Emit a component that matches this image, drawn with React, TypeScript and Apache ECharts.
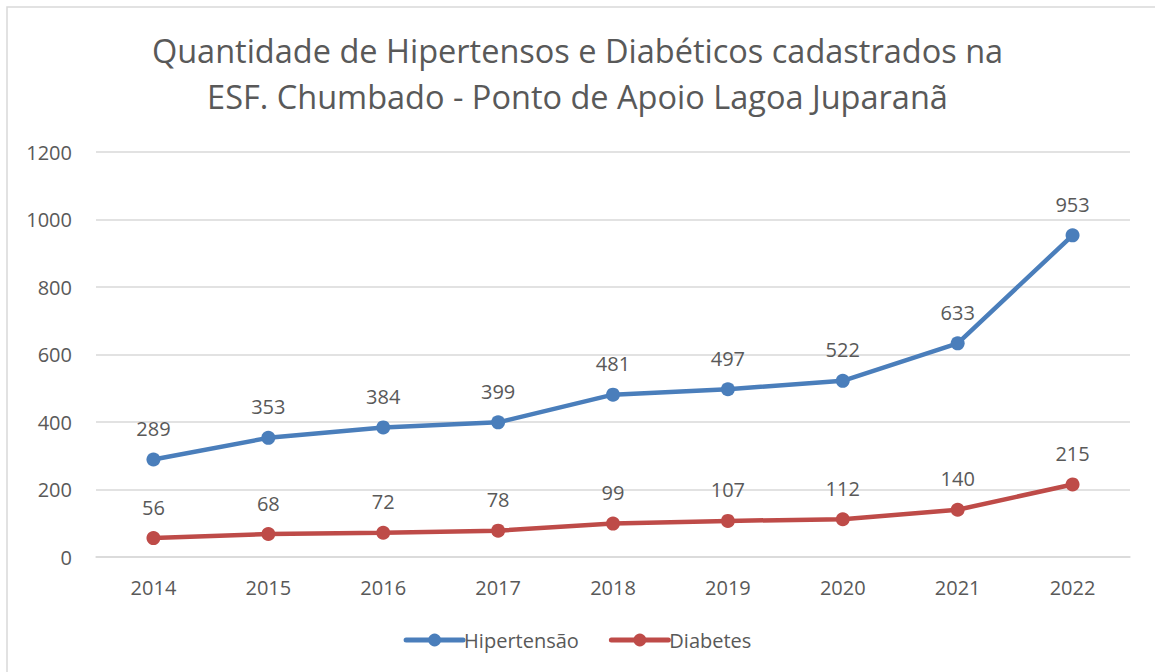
import React, { useEffect, useRef } from "react";
import * as echarts from "echarts";

const years = ["2014", "2015", "2016", "2017", "2018", "2019", "2020", "2021", "2022"];
const hipertensao = [289, 353, 384, 399, 481, 497, 522, 633, 953];
const diabetes = [56, 68, 72, 78, 99, 107, 112, 140, 215];
const titleText = "Quantidade de Hipertensos e Diabéticos cadastrados na\nESF. Chumbado - Ponto de Apoio Lagoa Juparanã";

const FONT = "Open Sans";
const TXT = "#595959";

export default function App() {
  const ref = useRef<HTMLDivElement>(null);
  useEffect(() => {
    document.body.style.margin = "0";
    const chart = echarts.init(ref.current!, null, { renderer: "svg" });
    const label = {
      show: true,
      position: "top" as const,
      distance: 14,
      color: TXT,
      fontSize: 20,
      fontFamily: FONT,
    };
    chart.setOption({
      animation: false,
      backgroundColor: "#ffffff",
      graphic: [
        {
          type: "rect",
          shape: { x: 7, y: 7, width: 1160, height: 680 },
          style: { fill: "none", stroke: "#d9d9d9", lineWidth: 1.5 },
          silent: true,
        },
      ],
      title: {
        text: titleText,
        left: "center",
        top: 22,
        textStyle: {
          color: TXT,
          fontSize: 32.5,
          fontWeight: "normal",
          fontFamily: FONT,
          lineHeight: 46,
        },
      },
      legend: {
        bottom: 17,
        left: "center",
        itemWidth: 57,
        itemHeight: 16,
        itemGap: 30,
        lineStyle: { width: 5 },
        textStyle: { color: TXT, fontSize: 20, fontFamily: FONT, padding: [0, 0, 0, -4] },
        data: ["Hipertensão", "Diabetes"],
      },
      grid: { left: 96, right: 25, top: 152, bottom: 115 },
      xAxis: {
        type: "category",
        data: years,
        boundaryGap: true,
        axisLine: { lineStyle: { color: "#d9d9d9", width: 1.5 } },
        axisTick: { show: false },
        axisLabel: { color: TXT, fontSize: 20, fontFamily: FONT, margin: 20 },
      },
      yAxis: {
        type: "value",
        min: 0,
        max: 1200,
        interval: 200,
        axisLine: { show: false },
        axisTick: { show: false },
        splitLine: { lineStyle: { color: "#d9d9d9", width: 1.5 } },
        axisLabel: {
          color: TXT,
          fontSize: 20,
          fontFamily: FONT,
          margin: 24,
          formatter: (v: number) => String(v),
        },
      },
      series: [
        {
          name: "Hipertensão",
          type: "line",
          data: hipertensao,
          color: "#4a7ebb",
          symbol: "circle",
          symbolSize: 14,
          lineStyle: { width: 4.5, color: "#4a7ebb", cap: "round" },
          itemStyle: { color: "#4a7ebb" },
          label,
        },
        {
          name: "Diabetes",
          type: "line",
          data: diabetes,
          color: "#be4b48",
          symbol: "circle",
          symbolSize: 14,
          lineStyle: { width: 4.5, color: "#be4b48", cap: "round" },
          itemStyle: { color: "#be4b48" },
          label,
        },
      ],
    });
    return () => chart.dispose();
  }, []);
  return <div ref={ref} style={{ width: 1155, height: 672 }} />;
}
